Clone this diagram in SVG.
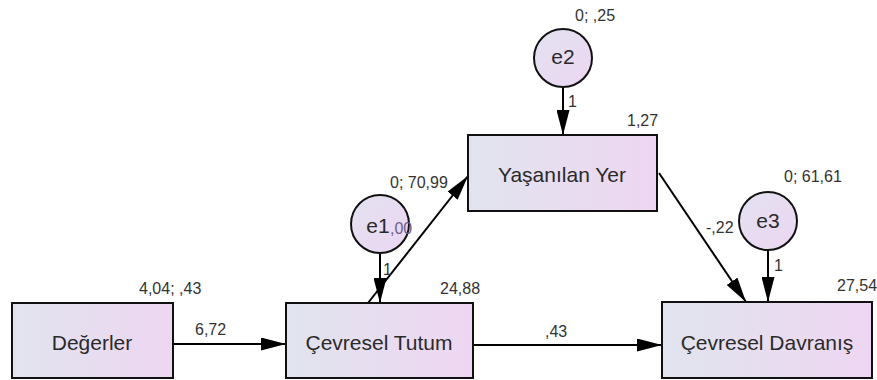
<svg xmlns="http://www.w3.org/2000/svg" width="877" height="380" viewBox="0 0 877 380">
<defs>
<linearGradient id="boxg" x1="0" y1="0" x2="1" y2="0">
<stop offset="0" stop-color="#e1e4ee"/>
<stop offset="1" stop-color="#eed6f2"/>
</linearGradient>
<linearGradient id="circg" x1="0" y1="0" x2="1" y2="1">
<stop offset="0" stop-color="#e3e2f0"/>
<stop offset="1" stop-color="#ecd6f2"/>
</linearGradient>
<marker id="arr" viewBox="0 0 10 10" refX="10" refY="5" markerWidth="25" markerHeight="13" markerUnits="userSpaceOnUse" orient="auto" preserveAspectRatio="none">
<path d="M0,0 L10,5 L0,10 z" fill="#000"/>
</marker>
</defs>
<style>
.box{fill:url(#boxg);stroke:#111;stroke-width:2}
.circ{fill:url(#circg);stroke:#111;stroke-width:2}
.lbl{font-family:"Liberation Sans",Arial,sans-serif;font-size:21px;fill:#2a2a2a;text-anchor:middle}
.num{font-family:"Liberation Sans",Arial,sans-serif;font-size:16px;fill:#333}
.edge{stroke:#000;stroke-width:2;fill:none;marker-end:url(#arr)}
</style>
<rect width="877" height="380" fill="#fff"/>
<g id="connectors">
<line class="edge" x1="173" y1="344" x2="286" y2="344"/>
<line class="edge" x1="473" y1="345" x2="662" y2="345"/>
<line class="edge" x1="368" y1="303" x2="468" y2="176"/>
<line class="edge" x1="563" y1="87" x2="563" y2="135"/>
<line class="edge" x1="380" y1="253" x2="380" y2="303"/>
<line class="edge" x1="768" y1="250" x2="768" y2="302"/>
<line class="edge" x1="659" y1="173" x2="746" y2="302"/>
</g>
<g id="Degerler">
<rect class="box" x="12" y="303" width="161" height="75"/>
<text class="lbl" x="92" y="350">Değerler</text>
<text class="num" x="139" y="294">4,04; ,43</text>
</g>
<g id="CevreselTutum">
<rect class="box" x="286" y="303" width="187" height="75"/>
<text class="lbl" x="379" y="350">Çevresel Tutum</text>
<text class="num" x="440" y="294">24,88</text>
</g>
<g id="YasanilanYer">
<rect class="box" x="468" y="135" width="189" height="76"/>
<text class="lbl" x="562" y="182">Yaşanılan Yer</text>
<text class="num" x="627" y="126">1,27</text>
</g>
<g id="CevreselDavranis">
<rect class="box" x="662" y="302" width="210" height="76"/>
<text class="lbl" x="767" y="350">Çevresel Davranış</text>
<text class="num" x="837" y="291">27,54</text>
</g>
<g id="e1">
<circle class="circ" cx="380" cy="224" r="29"/>
<text class="lbl" x="378" y="233">e1</text>
<text class="num" x="390" y="234" style="fill:#6d5e8c">,00</text>
</g>
<g id="e2">
<circle class="circ" cx="563" cy="58" r="29"/>
<text class="lbl" x="563" y="64">e2</text>
<text class="num" x="575" y="21">0; ,25</text>
</g>
<g id="e3">
<circle class="circ" cx="768" cy="221" r="29"/>
<text class="lbl" x="768" y="228">e3</text>
<text class="num" x="784" y="182">0; 61,61</text>
</g>
<g id="edge-labels">
<text class="num" x="195" y="335">6,72</text>
<text class="num" x="545" y="337">,43</text>
<text class="num" x="390" y="188">0; 70,99</text>
<text class="num" x="568" y="107">1</text>
<text class="num" x="383" y="275">1</text>
<text class="num" x="706" y="233">-,22</text>
<text class="num" x="774" y="271">1</text>
</g>
</svg>
